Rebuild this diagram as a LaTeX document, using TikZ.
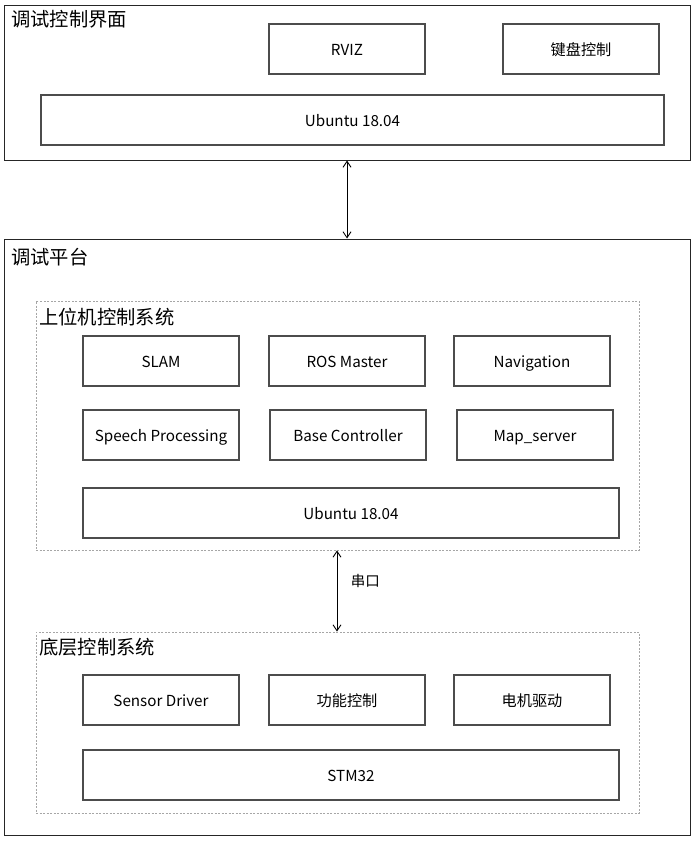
\documentclass[tikz,border=0pt]{standalone}
\usepackage{fontspec}
\setmainfont{Noto Sans CJK SC}
\usetikzlibrary{arrows.meta}
\begin{document}
\begin{tikzpicture}[x=1pt,y=-1pt,
  outerbox/.style={draw=black!85,line width=1pt},
  groupbox/.style={draw=black!35,dashed,dash pattern=on 2pt off 1.5pt,line width=0.8pt},
  item/.style={draw=black!70,line width=1.1pt,minimum width=156pt,minimum height=50pt,inner sep=0pt,text height=14pt,text depth=2pt,font=\fontsize{15.2}{17}\selectfont},
  wide/.style={item,minimum width=536pt},
  ttl/.style={anchor=north west,inner sep=0pt,font=\fontsize{19.3}{21}\selectfont},
  link/.style={line width=0.9pt,{Straight Barb[length=6pt,width=8pt]}-{Straight Barb[length=6pt,width=8pt]}}]
\useasboundingbox (0,0) rectangle (694,841);
% top panel
\node[outerbox,minimum width=686pt,minimum height=155pt,inner sep=0pt] (top) at (347,82.5) {};
\node[ttl] (ttop) at (11,10) {调试控制界面};
\node[item] (rviz) at (347,49) {RVIZ};
\node[item] (kbd) at (581,49) {键盘控制};
\node[item,minimum width=623pt] (ubu1) at (352.5,120) {Ubuntu 18.04};
% bottom panel
\node[outerbox,minimum width=686pt,minimum height=596pt,inner sep=0pt] (plat) at (347,537) {};
\node[ttl] (tplat) at (11,248) {调试平台};
\draw[link] (top.south -| rviz) -- (plat.north -| rviz);
% upper computer group
\node[groupbox,minimum width=603pt,minimum height=249pt,inner sep=0pt] (upper) at (337.5,425.5) {};
\node[ttl] (tupper) at (39,308) {上位机控制系统};
\node[item] (slam) at (161,361) {SLAM};
\node[item] (rosm) at (347,361) {ROS Master};
\node[item] (nav) at (532,361) {Navigation};
\node[item] (speech) at (161,435) {Speech Processing};
\node[item] (base) at (348,435) {Base Controller};
\node[item] (map) at (535,435) {Map\_server};
\node[wide] (ubu2) at (351,513) {Ubuntu 18.04};
% lower group
\node[groupbox,minimum width=603pt,minimum height=181pt,inner sep=0pt] (lower) at (337.5,722.5) {};
\node[ttl] (tlower) at (39,638) {底层控制系统};
\node[item] (sensor) at (161,700) {Sensor Driver};
\node[item] (func) at (347,700) {功能控制};
\node[item] (motor) at (532,700) {电机驱动};
\node[wide] (stm) at (351,775) {STM32};
\coordinate (ax) at (337,0);
\draw[link] (upper.south -| ax) -- (lower.north -| ax) node[pos=0.38,right=10pt,font=\fontsize{14.5}{16}\selectfont] (serial) {串口};
\end{tikzpicture}
\end{document}
